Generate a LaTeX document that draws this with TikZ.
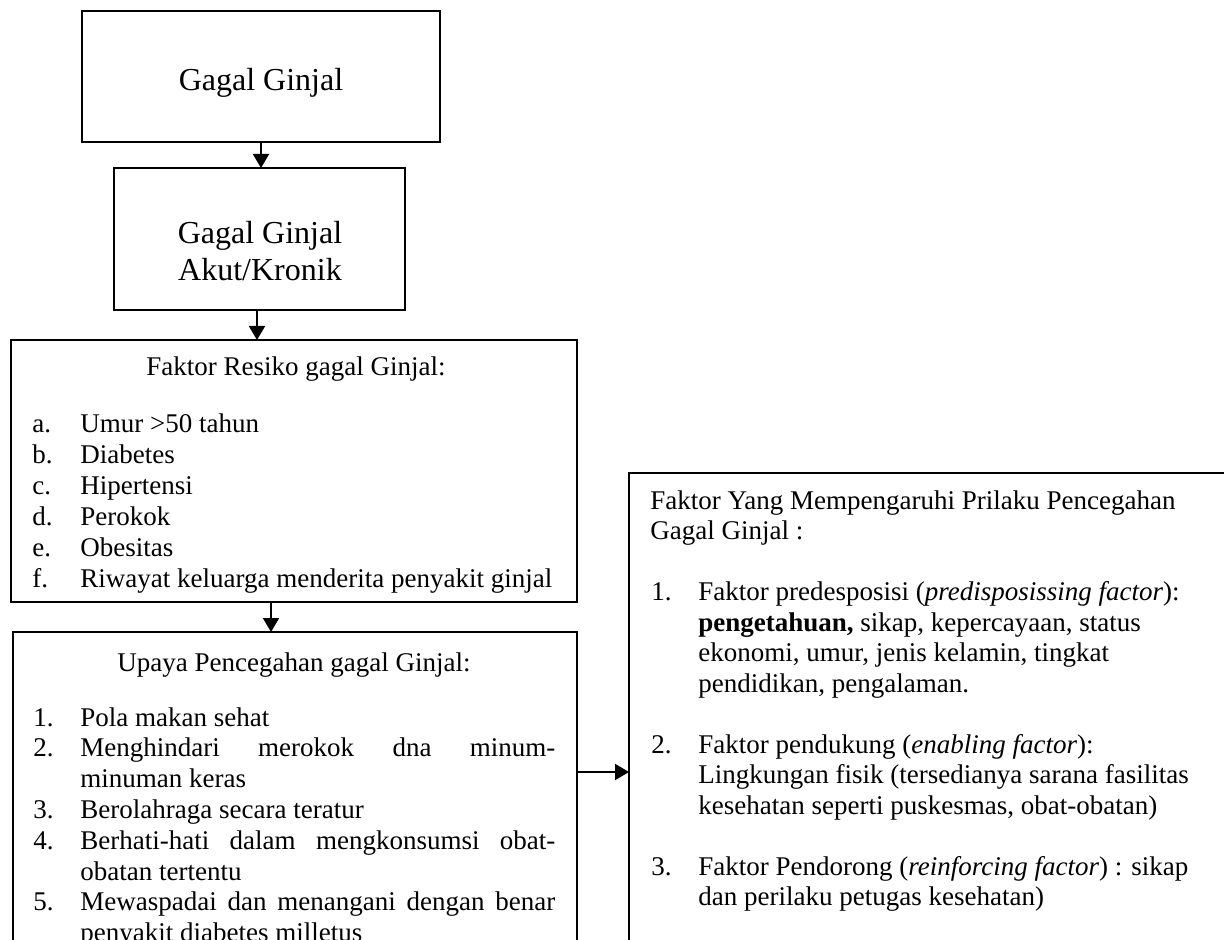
\documentclass[tikz,border=0pt]{standalone}
\usepackage{fontspec}
\setmainfont{Liberation Serif}
\usetikzlibrary{arrows.meta}
\begin{document}
\begin{tikzpicture}[x=0.5pt,y=-0.5pt,
  box/.style={draw, rectangle, line width=0.7pt, inner sep=0pt, outer sep=0pt},
  arr/.style={line width=1pt, -{Triangle[length=7pt,width=8pt]}},
  big/.style={inner sep=0pt, anchor=base, font=\fontsize{16}{18.5}\selectfont},
  ttl/.style={inner sep=0pt, anchor=base, font=\fontsize{13.5}{15.4}\selectfont},
  lab/.style={inner sep=0pt, anchor=base west, font=\fontsize{13.5}{15.4}\selectfont}]
\useasboundingbox (0,0) rectangle (1224,940);
\clip (0,0) rectangle (1224,940);
\fill[white] (0,0) rectangle (1224,940);

% boxes
\node[box, minimum width=179pt, minimum height=65.5pt] (b1) at (261,76.5) {};
\node[box, minimum width=145.5pt, minimum height=71pt] (b2) at (259.5,239) {};
\node[box, minimum width=283pt, minimum height=131pt] (b3) at (294,471) {};
\node[box, minimum width=282pt, minimum height=184pt] (b4) at (295,816) {};
\node[box, minimum width=315.5pt, minimum height=263.5pt] (b5) at (944.5,736.5) {};

% connectors
\coordinate (c2) at (257,0);
\coordinate (c3) at (271,0);
\coordinate (c4) at (0,772);
\draw[arr] (b1.south) -- (b1.south |- b2.north);
\draw[arr] (b2.south -| c2) -- (b3.north -| c2);
\draw[arr] (b3.south -| c3) -- (b4.north -| c3);
\draw[arr] (b4.east |- c4) -- (b5.west |- c4);

% box 1 and 2 texts
\node[big] (t1) at (261,91) {Gagal Ginjal};
\node[big] (t2a) at (260,244) {Gagal Ginjal};
\node[big] (t2b) at (260,281) {Akut/Kronik};

% box 3
\node[ttl] (t3) at (296,376) {Faktor Resiko gagal Ginjal:};
\foreach \l/\t [count=\i] in {a./{Umur >50 tahun}, b./Diabetes, c./Hipertensi,
   d./Perokok, e./Obesitas, f./{Riwayat keluarga menderita penyakit ginjal}} {
  \node[lab] (fl\i) at (32,{432+31*(\i-1)}) {\l};
  \node[lab] (ft\i) at (80,{432+31*(\i-1)}) {\t};
}

% box 4
\node[ttl] (t4) at (294,671) {Upaya Pencegahan gagal Ginjal:};
\node[lab] (ul1) at (33,726) {1.};
\node[lab] (ut1) at (80,726) {Pola makan sehat};
\node[lab] (ul2) at (33,756.8) {2.};
\node[lab] (ut2) at (80,756.8) {\makebox[237.5pt][s]{Menghindari\hfill merokok\hfill dna\hfill minum-}};
\node[lab] (ut2b) at (80,787.6) {minuman keras};
\node[lab] (ul3) at (33,818.4) {3.};
\node[lab] (ut3) at (80,818.4) {Berolahraga secara teratur};
\node[lab] (ul4) at (33,849.2) {4.};
\node[lab] (ut4) at (80,849.2) {\makebox[237.5pt][s]{Berhati-hati\hfill dalam\hfill mengkonsumsi\hfill obat-}};
\node[lab] (ut4b) at (80,880) {obatan tertentu};
\node[lab] (ul5) at (33,910.8) {5.};
\node[lab] (ut5) at (80,910.8) {\makebox[237.5pt][s]{Mewaspadai\hfill dan\hfill menangani\hfill dengan\hfill benar}};
\node[lab] (ut5b) at (80,941.6) {penyakit diabetes milletus};

% box 5
\node[lab] (h1) at (650,509) {Faktor Yang Mempengaruhi Prilaku Pencegahan};
\node[lab] (h2) at (650,539.5) {Gagal Ginjal :};
\node[lab] (pl1) at (651,600.5) {1.};
\node[lab] (p1a) at (698,600.5) {Faktor predesposisi (\textit{predisposissing factor}):};
\node[lab] (p1b) at (698,631) {\textbf{pengetahuan,} sikap, kepercayaan, status};
\node[lab] (p1c) at (698,661.5) {ekonomi, umur, jenis kelamin, tingkat};
\node[lab] (p1d) at (698,692) {pendidikan, pengalaman.};
\node[lab] (pl2) at (651,753) {2.};
\node[lab] (p2a) at (698,753) {Faktor pendukung (\textit{enabling factor}):};
\node[lab] (p2b) at (698,783.5) {Lingkungan fisik (tersedianya sarana fasilitas};
\node[lab] (p2c) at (698,814) {kesehatan seperti puskesmas, obat-obatan)};
\node[lab] (pl3) at (651,875) {3.};
\node[lab] (p3a) at (698,875) {Faktor Pendorong (\textit{reinforcing factor}) : sikap};
\node[lab] (p3b) at (698,905.5) {dan perilaku petugas kesehatan)};
\end{tikzpicture}
\end{document}
